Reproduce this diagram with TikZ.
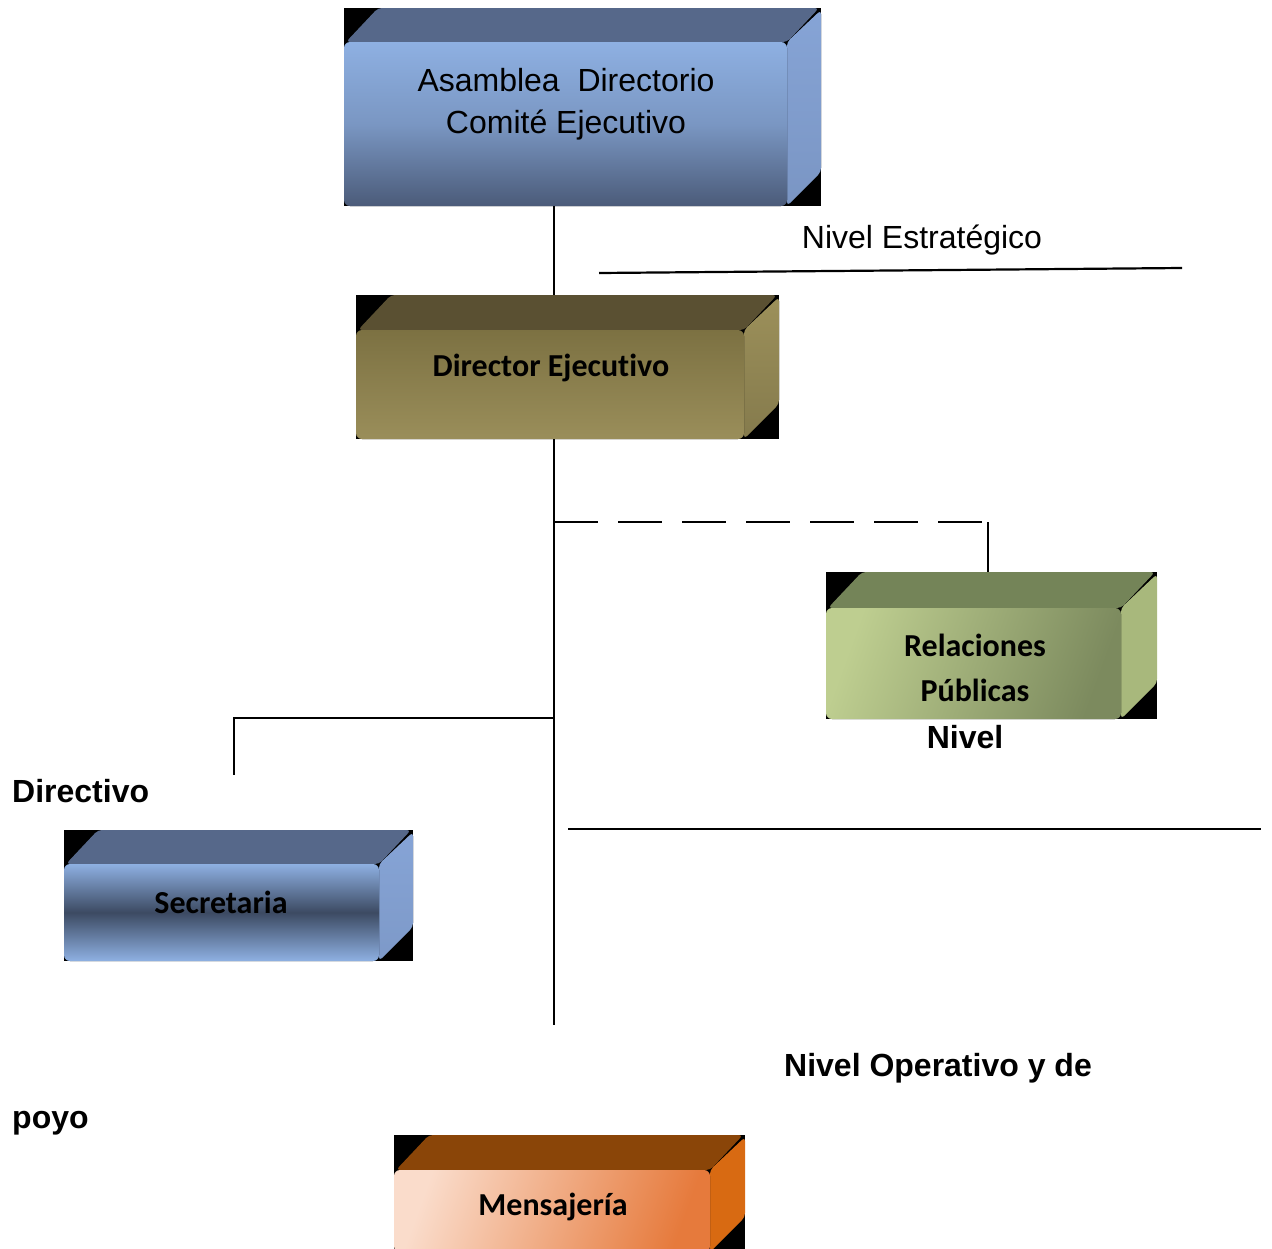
\documentclass[tikz,border=0pt]{standalone}
\usepackage{fontspec}
\setmainfont{Liberation Sans}
\newfontfamily\boxfont[Ligatures=NoCommon]{Carlito}
\usetikzlibrary{calc}

\definecolor{blueTop}{HTML}{56688A}
\definecolor{blueLight}{HTML}{8EB0E2}
\definecolor{blueDark}{HTML}{4B5B79}
\definecolor{blueSide}{HTML}{86A4D6}
\definecolor{oliveTop}{HTML}{5A5032}
\definecolor{oliveA}{HTML}{7C7142}
\definecolor{oliveB}{HTML}{9A8E5A}
\definecolor{oliveSide}{HTML}{9C905A}
\definecolor{greenTop}{HTML}{748458}
\definecolor{greenLight}{HTML}{BECE90}
\definecolor{greenDark}{HTML}{7C8A5E}
\definecolor{greenSide}{HTML}{A8B87C}
\definecolor{secMid}{HTML}{3C4A62}
\definecolor{brownTop}{HTML}{8A4508}
\definecolor{peach}{HTML}{FADCCB}
\definecolor{orangeF}{HTML}{E67A3C}
\definecolor{orangeSide}{HTML}{D86A12}

\tikzset{
  conn/.style={line width=2pt, black},
  levelline/.style={line width=2.2pt, black},
  boxbg/.style={fill=black, inner sep=0pt, outer sep=0pt},
  plainlabel/.style={font=\fontsize{32}{38}\selectfont, inner sep=0pt},
  boldlabel/.style={font=\fontsize{32}{38}\selectfont\bfseries, inner sep=0pt},
  boxlabel/.style={font=\boxfont\fontsize{32}{38}\selectfont\bfseries, inner sep=0pt, align=center},
}

% #1 name, #2 x0, #3 y0, #4 x1, #5 y1, #6 depth,
% #7 top face style, #8 front face style, #9 right face style
\newcommand\cuboid[9]{%
  \node[boxbg, minimum width={(#4-#2)*1pt}, minimum height={(#5-#3)*1pt}]
    (#1) at ({(#2+#4)/2},{(#3+#5)/2}) {};
  \fill[#7, rounded corners=4pt] (#2+2,#3+#6) -- (#2+#6,#3) -- (#4-2,#3) -- (#4-#6,#3+#6) -- cycle;
  \fill[#9, rounded corners=4pt] (#4-#6,#3+#6) -- (#4,#3+2) -- (#4,#5-#6) -- (#4-#6,#5) -- cycle;
  \fill[#8, rounded corners=6pt] (#2,#3+#6) rectangle (#4-#6,#5);
}

\begin{document}
\begin{tikzpicture}[x=1pt, y=-1pt]
\useasboundingbox (0,0) rectangle (1272,1248);
\clip (0,0) rectangle (1272,1248);
\fill[white] (0,0) rectangle (1272,1248);

% boxes
\cuboid{asamblea}{344}{8}{821}{206}{34}{fill=blueTop}
  {top color=blueLight, bottom color=blueDark, middle color=blueLight!70!blueDark}
  {top color=blueSide, bottom color=blueSide!80!blueDark}
\cuboid{director}{356}{295}{779}{439}{35}{fill=oliveTop}
  {top color=oliveA, bottom color=oliveB}
  {top color=oliveSide, bottom color=oliveSide!85!black}
\cuboid{relaciones}{826}{572}{1157}{719}{36}{fill=greenTop}
  {left color=greenLight, right color=greenDark, shading angle=70}
  {fill=greenSide}
\cuboid{secretaria}{64}{830}{413}{961}{34}{fill=blueTop}
  {top color=blueLight, bottom color=blueLight, middle color=secMid}
  {top color=blueSide, bottom color=blueSide!85!blueDark}
\cuboid{mensajeria}{394}{1135}{745}{1252}{35}{fill=brownTop}
  {left color=peach, right color=orangeF, shading angle=70}
  {fill=orangeSide}

% box texts
\node[plainlabel] (asambleaA) at (566,80) {Asamblea\ \ Directorio};
\node[plainlabel] (asambleaB) at (566,125) {Comité Ejecutivo};
\node[boxlabel] (directorT) at (551,368) {Director Ejecutivo};
\node[boxlabel] (relacionesA) at (975,645) {Relaciones};
\node[boxlabel] (relacionesB) at (975,690) {Públicas};
\node[boxlabel] (secretariaT) at (221,902) {Secretaria};
\node[boxlabel] (mensajeriaT) at (553,1207) {Mensajería};

% level labels
\node[plainlabel] (nivelEst) at (922,240) {Nivel Estratégico};
\node[boldlabel] (nivelDir) at (965,737) {Nivel};
\node[boldlabel, anchor=west] (directivo) at (12,791) {Directivo};
\node[boldlabel] (nivelOp) at (938,1068) {Nivel Operativo y de};
\node[boldlabel, anchor=west] (poyo) at (12,1123) {poyo};

% connectors
\coordinate (spine) at (554,0);
\coordinate (spineEnd) at (554,1025);
\coordinate (dashY) at (0,522);
\coordinate (branchY) at (0,718);
\coordinate (secTop) at (234,775);
\coordinate (relTop) at (988,572);

\draw[conn] (spine |- asamblea.south) -- (spine |- director.north);
\draw[conn] (spine |- director.south) -- (spineEnd);
\draw[conn, dash pattern=on 44pt off 20pt] (spine |- dashY) -- (relTop |- dashY);
\draw[conn] (relTop |- dashY) -- (relTop);
\draw[conn] (spine |- branchY) -- (secTop |- branchY) -- (secTop);

% level separators
\coordinate (estA) at (599,273);
\coordinate (estB) at (1182,268);
\coordinate (dirA) at (568,829);
\coordinate (dirB) at (1261,829);
\draw[levelline] (estA) -- (estB);
\draw[levelline] (dirA) -- (dirB);
\end{tikzpicture}
\end{document}
